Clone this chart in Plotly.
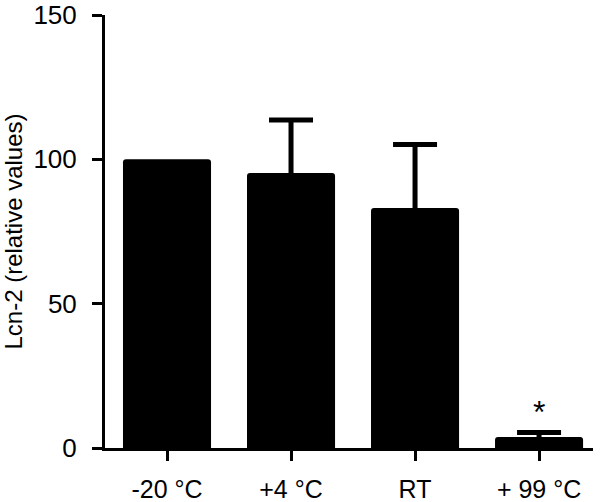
import plotly.graph_objects as go

categories = ["-20 °C", "+4 °C", "RT", "+ 99 °C"]
values = [100, 95.3, 83.1, 3.8]
errors_upper = [None, 18.3, 22.0, 1.6]
y_ticks = [0, 50, 100, 150]

FONT = "Arial, Liberation Sans, sans-serif"

# bars that have an error bar
err_idx = [i for i, e in enumerate(errors_upper) if e is not None]
err_x = [categories[i] for i in err_idx]
err_y = [values[i] for i in err_idx]
err_up = [errors_upper[i] for i in err_idx]
# lower whisker kept inside the (black) bar so it stays hidden
err_down = [min(2.0, values[i] / 2) for i in err_idx]

fig = go.Figure()
fig.add_trace(go.Bar(
    x=categories,
    y=values,
    width=0.71,
    marker=dict(color="black", line=dict(width=0), cornerradius=3),
))
fig.add_trace(go.Scatter(
    x=err_x, y=err_y, mode="markers",
    marker=dict(size=0.1, color="black", opacity=0),
    error_y=dict(
        type="data", symmetric=False,
        array=err_up, arrayminus=err_down,
        color="black", thickness=5, width=22,
    ),
    hoverinfo="skip",
))

fig.add_annotation(
    x=categories[3], y=values[3] + errors_upper[3],
    text="*", showarrow=False, yanchor="bottom", yshift=0,
    font=dict(family=FONT, size=32, color="black"),
)

fig.update_layout(
    width=608, height=502,
    margin=dict(l=105, r=15, t=15, b=54),
    paper_bgcolor="white", plot_bgcolor="white",
    showlegend=False,
    font=dict(family=FONT, color="black"),
)
fig.update_xaxes(
    range=[-0.5, 3.435], automargin=False,
    showline=True, linecolor="black", linewidth=3,
    ticks="outside", ticklen=10, tickwidth=3, tickcolor="black",
    showgrid=False, zeroline=False,
    tickfont=dict(family=FONT, size=25, color="black"),
    ticklabelstandoff=7,
)
fig.update_yaxes(
    range=[0, 150], automargin=False,
    tickvals=y_ticks,
    showline=True, linecolor="black", linewidth=3,
    ticks="outside", ticklen=10, tickwidth=3, tickcolor="black",
    showgrid=False, zeroline=False,
    tickfont=dict(family=FONT, size=26, color="black"),
    ticklabelstandoff=10,
    title=dict(text="Lcn-2 (relative values)", font=dict(family=FONT, size=24, color="black"), standoff=8),
)

fig.write_html(
    "out.html",
    config={"displayModeBar": False},
    post_script="document.body.style.margin='0';document.body.style.overflow='hidden';",
)
